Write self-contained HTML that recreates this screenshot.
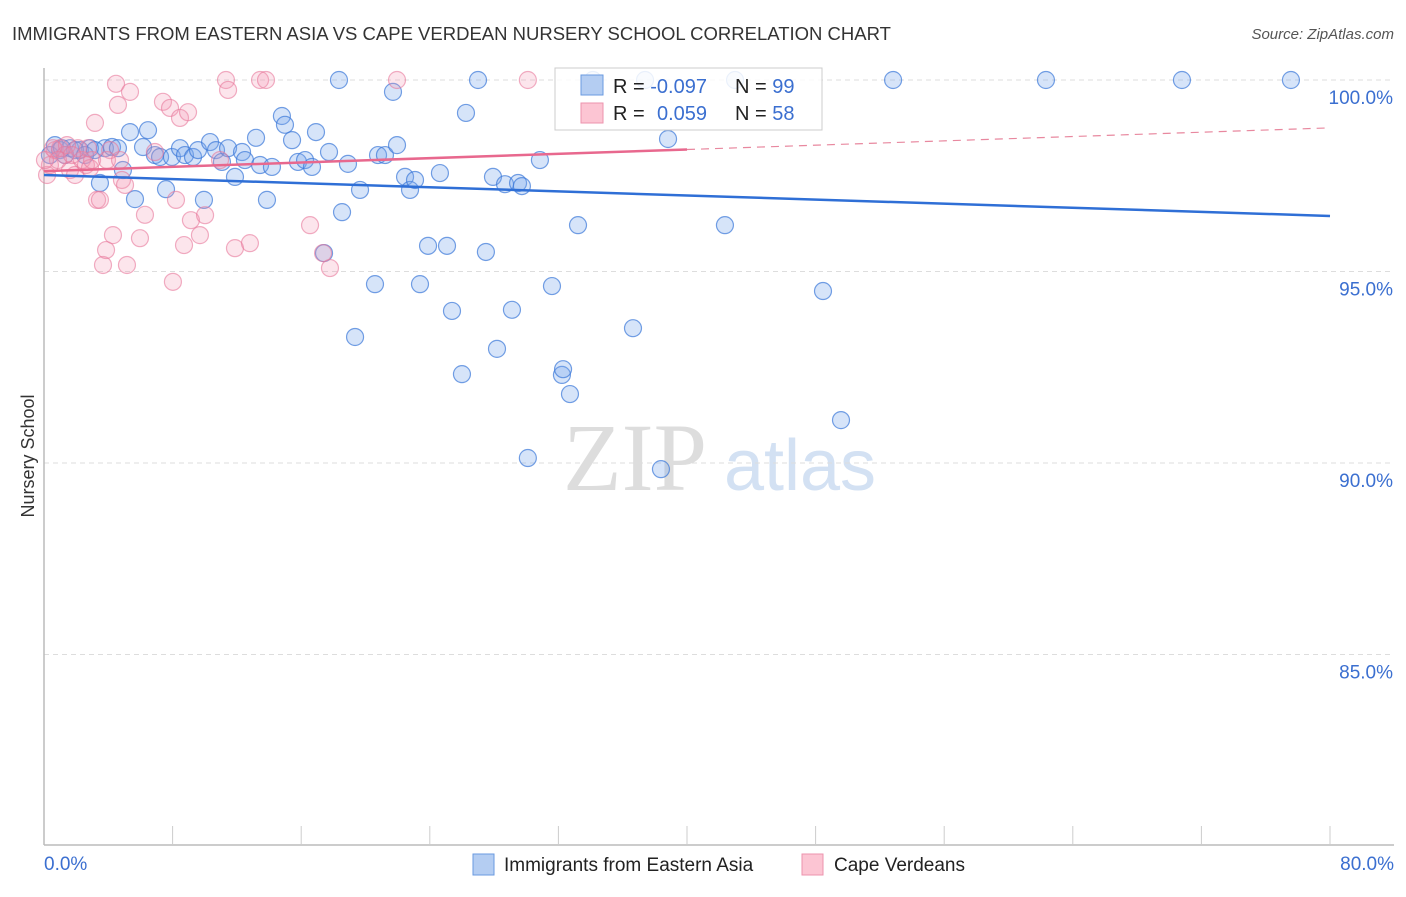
<!DOCTYPE html>
<html><head><meta charset="utf-8"><style>
body{margin:0;background:#fff;width:1406px;height:892px;overflow:hidden;font-family:"Liberation Sans",sans-serif}
</style></head><body>
<svg width="1406" height="892" viewBox="0 0 1406 892" id="svg">
<text x="12" y="40" font-size="18.5" fill="#333">IMMIGRANTS FROM EASTERN ASIA VS CAPE VERDEAN NURSERY SCHOOL CORRELATION CHART</text>
<text x="1394" y="39" font-size="15" fill="#555" font-style="italic" text-anchor="end">Source: ZipAtlas.com</text>
<text x="34" y="456" font-size="18" fill="#333" text-anchor="middle" transform="rotate(-90 34 456)">Nursery School</text>
<g><text x="635" y="490" font-size="96" fill="#ddd" font-family="Liberation Serif,serif" text-anchor="middle">ZIP</text><text x="800" y="490" font-size="72" fill="#d3e1f3" text-anchor="middle">atlas</text></g>
<g id="grid"></g><g id="axes"></g><g id="pts"></g><g id="trends"></g>
<g>
<rect x="555" y="68" width="267" height="62" fill="#fff" fill-opacity="0.85" stroke="#ccc"/>
<rect x="581" y="75" width="22" height="20" fill="#b4cdf2" stroke="#6a9ae0"/>
<rect x="581" y="103" width="22" height="20" fill="#fcc5d3" stroke="#ec93ae"/>
<text x="613" y="93" font-size="20" fill="#222">R = <tspan fill="#3b6fd0">-0.097</tspan></text>
<text x="735" y="93" font-size="20" fill="#222">N = <tspan fill="#3b6fd0">99</tspan></text>
<text x="613" y="120" font-size="20" fill="#222">R = <tspan fill="#3b6fd0" x="657">0.059</tspan></text>
<text x="735" y="120" font-size="20" fill="#222">N = <tspan fill="#3b6fd0">58</tspan></text>
</g>
<g>
<rect x="473" y="854" width="21" height="21" fill="#b4cdf2" stroke="#6a9ae0"/>
<text x="504" y="871" font-size="19" fill="#222">Immigrants from Eastern Asia</text>
<rect x="802" y="854" width="21" height="21" fill="#fcc5d3" stroke="#ec93ae"/>
<text x="834" y="871" font-size="19" fill="#222">Cape Verdeans</text>
</g>
</svg>
<script>
const blueX=[0.68,1.0,1.62,2.24,2.86,3.48,3.79,4.23,4.6,4.91,5.35,5.66,6.16,6.47,6.9,7.22,7.59,7.96,8.46,8.77,9.27,9.58,9.95,10.33,10.7,11.07,11.45,11.88,12.32,12.5,13.19,13.44,13.87,14.18,14.8,14.99,15.43,15.8,16.24,16.67,16.92,17.42,17.73,18.35,18.54,18.91,19.66,19.35,20.59,20.78,21.21,21.71,21.96,22.46,22.77,23.08,23.39,23.89,24.63,25.07,25.38,26.0,26.25,27.0,27.49,27.93,28.18,28.68,29.11,29.49,29.73,30.1,30.85,31.6,32.22,32.29,32.72,33.22,34.15,36.64,37.39,38.38,38.82,42.36,42.99,48.46,49.58,52.82,62.33,70.79,77.57,0.37,1.31,1.93,2.55,3.17,1.12];
const blueY=[98.30,98.17,98.22,98.17,98.22,97.31,98.22,98.25,98.22,97.65,98.64,96.89,98.25,98.69,98.04,97.99,97.15,97.99,98.22,98.04,97.99,98.17,96.87,98.38,98.17,97.86,98.22,97.47,98.12,97.91,98.49,97.78,96.87,97.73,99.06,98.83,98.43,97.86,97.91,97.73,98.64,95.48,98.12,100,96.55,97.81,97.13,93.29,94.67,98.04,98.04,99.69,98.30,97.47,97.13,97.39,94.67,95.67,97.57,95.67,93.97,92.32,99.14,100,95.51,97.47,92.98,97.28,94.0,97.31,97.23,90.13,97.91,94.62,92.3,92.45,91.8,96.21,100,93.52,100,89.84,98.46,96.21,100,94.49,91.12,100,100,100,100,98.04,98.04,98.17,98.04,98.17,98.22];
const pinkX=[0.19,0.37,0.68,1.0,1.31,1.62,1.93,2.11,2.36,2.61,2.86,3.17,3.3,3.48,3.67,3.86,4.11,4.29,4.48,4.6,4.85,5.04,5.16,5.35,5.97,6.28,6.9,7.4,7.84,8.02,8.21,8.46,8.71,8.96,9.14,9.7,10.02,10.95,11.32,11.45,11.88,12.81,13.44,13.81,16.55,17.36,17.79,21.96,30.1,0.56,0.87,1.43,1.74,2.74,2.99,3.92,4.73,0.06];
const pinkY=[97.52,97.78,98.17,98.22,98.04,97.65,97.52,98.22,97.91,97.78,97.70,98.88,96.87,96.87,95.17,95.56,98.17,95.95,99.9,99.35,97.39,97.26,95.17,99.69,95.87,96.48,98.12,99.43,99.27,94.73,96.87,99.01,95.69,99.16,96.34,95.95,96.47,97.91,100,99.74,95.61,95.74,100,100,96.21,95.48,95.09,100,100,98.22,97.91,98.30,98.04,98.22,97.91,97.91,97.91,97.91];
const blueTrend=[97.52,96.45];
const pinkTrend=[97.62,98.75];
const pinkSolidEnd=40;
const yTicks=[100,95,90,85];
const xTicks=[8,16,24,32,40,48,56,64,72,80];
const NS="http://www.w3.org/2000/svg";
const X=v=>44+v*1286/80, Y=v=>80+(100-v)*38.3;
function mk(t,a,p){const e=document.createElementNS(NS,t);for(const k in a)e.setAttribute(k,a[k]);p.appendChild(e);return e;}
const grid=document.getElementById('grid'),axes=document.getElementById('axes'),pts=document.getElementById('pts'),tr=document.getElementById('trends');
yTicks.forEach(v=>{const l=mk('line',{x1:44,x2:1394,y1:Y(v),y2:Y(v),stroke:'#ddd','stroke-dasharray':'5,4'},grid);


const t=mk('text',{x:1393,y:Y(v)+24,'font-size':19,fill:'#3b6fd0','text-anchor':'end'},grid);t.textContent=v.toFixed(1)+'%';

});
const ya=mk('line',{x1:44,x2:44,y1:68,y2:845,stroke:'#bbb','stroke-width':1.5},axes);


const xa=mk('line',{x1:44,x2:1394,y1:845,y2:845,stroke:'#bbb','stroke-width':1.5},axes);


xTicks.forEach(v=>{const t=mk('line',{x1:X(v),x2:X(v),y1:826,y2:845,stroke:'#ccc'},axes);

});
[[0,'start',44,'0.0%'],[80,'end',1394,'80.0%']].forEach(a=>{const t=mk('text',{x:a[2],y:870,'font-size':19,fill:'#3b6fd0','text-anchor':a[1]},axes);t.textContent=a[3];

});
blueX.forEach((v,i)=>{const c=mk('circle',{cx:X(v),cy:Y(blueY[i]),r:8.5,fill:'rgba(120,165,235,0.3)',stroke:'rgba(58,120,216,0.7)','stroke-width':1.2},pts);

});
pinkX.forEach((v,i)=>{const c=mk('circle',{cx:X(v),cy:Y(pinkY[i]),r:8.5,fill:'rgba(244,150,180,0.25)',stroke:'rgba(232,120,155,0.6)','stroke-width':1.2},pts);

});
const bl=mk('line',{x1:X(0),y1:Y(blueTrend[0]),x2:X(80),y2:Y(blueTrend[1]),stroke:'#2f6fd6','stroke-width':2.5},tr);


const pm=pinkTrend[0]+(pinkTrend[1]-pinkTrend[0])*pinkSolidEnd/80;
const pl=mk('line',{x1:X(0),y1:Y(pinkTrend[0]),x2:X(pinkSolidEnd),y2:Y(pm),stroke:'#e8688e','stroke-width':2.5},tr);


const pd=mk('line',{x1:X(pinkSolidEnd),y1:Y(pm),x2:X(80),y2:Y(pinkTrend[1]),stroke:'#e8889f','stroke-width':1.2,'stroke-dasharray':'8,6'},tr);


</script>
</body></html>
